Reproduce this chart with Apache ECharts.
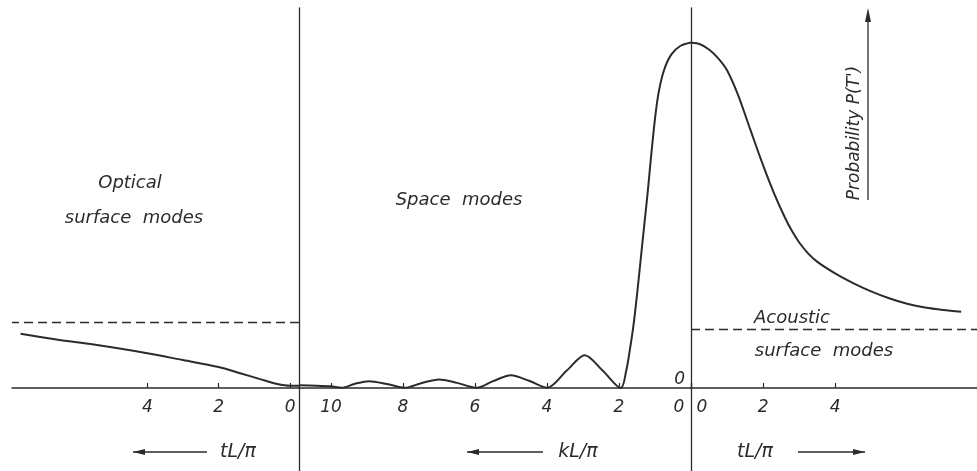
<!DOCTYPE html>
<html lang="en">
<head>
    <title>Probability P(T') - optical, space and acoustic modes</title>
    <meta charset="utf-8">
    <style>
        html, body {margin: 0; padding: 0; background: #fff;}
        #container {width: 977px; height: 471px;}
    </style>
</head>
<body>
<div id="container"></div>

<script src="https://cdn.jsdelivr.net/npm/echarts@6/dist/echarts.min.js"></script>
<script>
// optical surface modes, [tL/pi, P]
var opticalData = [
    [7.55, 0.157], [6.5, 0.140], [5.5, 0.126], [4.0, 0.101], [3.0, 0.081],
    [2.0, 0.061], [1.4, 0.043], [0.84, 0.026], [0.36, 0.012], [0, 0.007], [-0.25, 0.007]
];
// space modes, [kL/pi, P]
var spaceData = [
    [10.89, 0.008], [10.4, 0.007], [10.0, 0.005], [9.7, 0.001], [9.35, 0.012],
    [8.95, 0.020], [8.45, 0.012], [7.95, 0.001], [7.5, 0.014], [7.0, 0.025],
    [6.5, 0.015], [5.95, 0.001], [5.5, 0.020], [5.0, 0.037], [4.5, 0.021],
    [4.0, 0.001], [3.45, 0.051], [2.95, 0.095], [2.45, 0.050], [1.95, 0.0],
    [1.8, 0.05], [1.7, 0.11], [1.6, 0.18], [1.5, 0.27], [1.4, 0.37],
    [1.3, 0.47], [1.2, 0.57], [1.1, 0.68], [1.0, 0.78], [0.9, 0.855],
    [0.75, 0.92], [0.55, 0.965], [0.3, 0.99], [0, 1.0]
];
// acoustic surface modes, [tL/pi, P]
var acousticData = [
    [0, 1.0], [0.25, 0.995], [0.5, 0.98], [0.75, 0.955], [1.0, 0.92], [1.3, 0.85],
    [1.64, 0.75], [2.0, 0.645], [2.3, 0.565], [2.6, 0.495], [2.8, 0.455], [3.0, 0.422],
    [3.25, 0.39], [3.5, 0.366], [4.0, 0.332], [4.5, 0.304], [5.0, 0.28], [5.5, 0.26],
    [6.0, 0.244], [6.5, 0.233], [7.0, 0.226], [7.5, 0.221]
];
var opticalLimit = 0.186;   // dashed level, left
var acousticLimit = 0.171;  // dashed level, right
var opticalTicks = [0, 2, 4];
var spaceTicks = [0, 2, 4, 6, 8, 10];
var acousticTicks = [0, 2, 4];

var ink = '#2b2b2b';
var font = 'DejaVu Sans, sans-serif';

// zeroShift: nudges the "0" label off the vertical line (px, rich padding)
function xAxisFor(grid, min, max, ticks, inverse, zeroPad) {
    return {
        type: 'value', gridIndex: grid, min: min, max: max, inverse: inverse,
        position: 'bottom', offset: -83,
        axisLine: {onZero: false, lineStyle: {color: ink, width: 1.5}},
        axisTick: {show: true, inside: true, length: 5, customValues: ticks, lineStyle: {color: ink, width: 1.2}},
        axisLabel: {
            customValues: ticks, margin: 11, color: ink, fontSize: 17,
            fontStyle: 'italic', fontFamily: font,
            formatter: function (v) { return v === 0 && zeroPad ? '{z|0}' : String(v); },
            rich: {z: {padding: zeroPad || [0, 0, 0, 0], fontSize: 17, fontStyle: 'italic', fontFamily: font, color: ink}}
        },
        splitLine: {show: false}
    };
}

function yAxisFor(grid, showLine, zeroLabel) {
    return {
        type: 'value', gridIndex: grid, min: -0.24, max: 1.1,
        axisLine: {show: showLine, onZero: false, lineStyle: {color: ink, width: 1.3}},
        axisTick: {show: false},
        axisLabel: zeroLabel ? {
            show: true, customValues: [0], verticalAlign: 'bottom', margin: 6,
            color: ink, fontSize: 17, fontStyle: 'italic', fontFamily: font
        } : {show: false},
        splitLine: {show: false}
    };
}

function curve(grid, data, level) {
    var s = {
        type: 'line', xAxisIndex: grid, yAxisIndex: grid, data: data,
        smooth: 0.3, showSymbol: false, lineStyle: {color: ink, width: 2}
    };
    if (level !== undefined) {
        s.markLine = {
            silent: true, symbol: 'none', label: {show: false},
            lineStyle: {color: ink, width: 1.3, type: [9, 5]},
            data: [{yAxis: level}]
        };
    }
    return s;
}

function text(str, x, y, size, extra) {
    var el = {
        type: 'text', x: x, y: y,
        style: {
            text: str, fill: ink, fontSize: size, fontStyle: 'italic', fontFamily: font,
            align: 'center', verticalAlign: 'middle'
        }
    };
    if (extra) for (var k in extra) el[k] = extra[k];
    return el;
}

function arrow(x1, x2, y, headAtStart) {
    var hx = headAtStart ? x1 : x2;
    var d = headAtStart ? 12 : -12;
    return [
        {type: 'line', shape: {x1: x1, y1: y, x2: x2, y2: y}, style: {stroke: ink, lineWidth: 1.5}},
        {type: 'polygon', shape: {points: [[hx, y], [hx + d, y - 3], [hx + d, y + 3]]}, style: {fill: ink}}
    ];
}

var graphics = [
    text('Optical', 130, 183, 18),
    text('surface  modes', 134, 218, 18),
    text('Space  modes', 459, 200, 18),
    text('Acoustic', 792, 318, 18),
    text('surface  modes', 824, 351, 18),
    text("Probability P(T')", 855, 133, 17, {rotation: Math.PI / 2}),
    {type: 'line', shape: {x1: 868, y1: 200, x2: 868, y2: 14}, style: {stroke: ink, lineWidth: 1.3}},
    {type: 'polygon', shape: {points: [[868, 8], [865, 22], [871, 22]]}, style: {fill: ink}},
    text('tL/\u03c0', 238, 452, 19),
    text('kL/\u03c0', 578, 452, 19),
    text('tL/\u03c0', 755, 452, 19)
].concat(arrow(133, 207, 452, true), arrow(467, 543, 452, true), arrow(798, 865, 452, false));

var myChart = echarts.init(document.getElementById('container'));
var options = {
    backgroundColor: '#fff',
    animation: false,
    grid: [
        {left: 12, right: 678, top: 8, bottom: 0, outerBoundsMode: 'none'},
        {left: 299, right: 286, top: 8, bottom: 0, outerBoundsMode: 'none'},
        {left: 691, right: 0, top: 8, bottom: 0, outerBoundsMode: 'none'}
    ],
    xAxis: [
        xAxisFor(0, -0.25, 7.79, opticalTicks, true),
        xAxisFor(1, 0, 10.89, spaceTicks, true, [0, 24, 0, 0]),
        xAxisFor(2, 0, 7.94, acousticTicks, false, [0, 0, 0, 22])
    ],
    yAxis: [
        yAxisFor(0, false, false),
        yAxisFor(1, true, false),
        yAxisFor(2, true, true)
    ],
    series: [
        curve(0, opticalData, opticalLimit),
        curve(1, spaceData),
        curve(2, acousticData, acousticLimit)
    ],
    graphic: graphics
};
myChart.setOption(options);
</script>
</body>
</html>
